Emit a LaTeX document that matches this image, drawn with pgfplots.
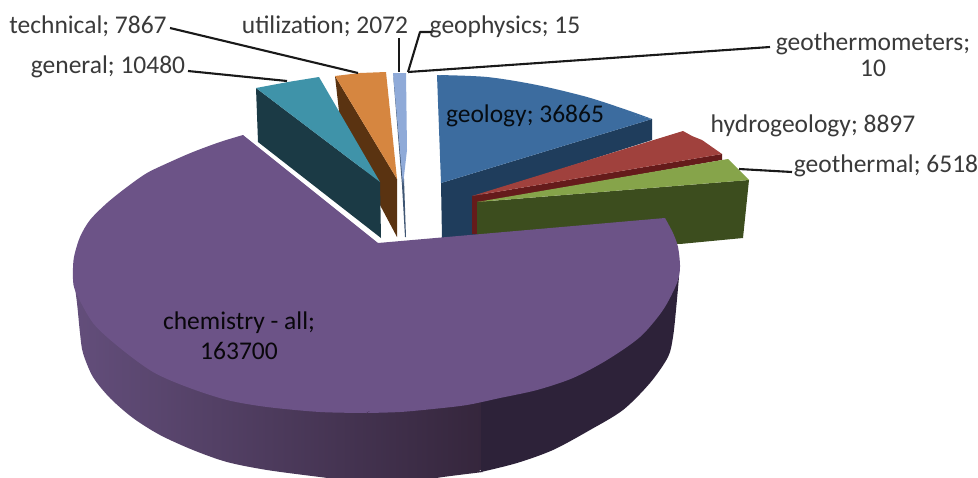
\documentclass[border=0pt]{standalone}
\usepackage{fontspec}
\setmainfont{Carlito}
\usepackage{pgfplots}
\pgfplotsset{compat=1.18}
\definecolor{purT}{HTML}{6C5387}
\definecolor{purL}{HTML}{634E7B}
\definecolor{purR}{HTML}{35263C}
\definecolor{purD}{HTML}{2D2239}
\definecolor{geoT}{HTML}{3C6C9F}
\definecolor{geoS}{HTML}{1F3D5C}
\definecolor{redT}{HTML}{A0413D}
\definecolor{redS}{HTML}{651B1B}
\definecolor{grnT}{HTML}{86A44A}
\definecolor{grnS}{HTML}{3C4D1E}
\definecolor{teaT}{HTML}{3F93A9}
\definecolor{teaS}{HTML}{1B3A45}
\definecolor{oraT}{HTML}{D68640}
\definecolor{oraS}{HTML}{5A3311}
\definecolor{bluT}{HTML}{8FAAD8}
\definecolor{bluS}{HTML}{3F5673}
\definecolor{txt}{HTML}{3A3A3A}
\begin{document}
\begin{tikzpicture}
\begin{axis}[width=978pt,height=477pt,scale only axis,xmin=0,xmax=978,ymin=0,ymax=477,y dir=reverse,hide axis,
  every axis plot/.append style={draw=none,mark=none}]
% canvas
\addplot[fill=white] coordinates {(0,0)(978,0)(978,477)(0,477)};
% geology
\addplot[fill=geoS] coordinates {(441,183)(652,119)(652,140)(480,195)(480,240)(442,238)};
\addplot[fill=geoT,smooth] coordinates {(437,75)(487,77)(537,85)(587,97)(627,110)(652,119)};
\addplot[fill=geoT] coordinates {(437,75)(500,85)(652,119)(441,183)};
% hydrogeology
\addplot[fill=redS] coordinates {(472,196)(722,154)(722,160)(477,203)(477,234)(472,234)};
\addplot[fill=redT] coordinates {(472,196)(683,131)(692,136)(702,140)(712,147)(722,154)};
% geothermal
\addplot[fill=grnS] coordinates {(477,202)(749,180)(743,238)(680,244)(477,236)};
\addplot[fill=grnT] coordinates {(477,202)(728,159)(735,166)(742,173)(749,180)};
% technical
\addplot[fill=oraS] coordinates {(335,76)(397,179)(397,237)(380,205)(340,120)};
\addplot[fill=oraT] coordinates {(335,76)(360,73)(386,72)(397,179)};
% general
\addplot[fill=teaS] coordinates {(256,88)(380,182)(381,238)(258,142)};
\addplot[fill=teaT] coordinates {(256,88)(272,85)(288,82)(319,77)(380,182)};
% utilization and the two thin slices
\addplot[fill=bluS] coordinates {(393,73)(403,150)(406,237)(405,237)(402,185)};
\addplot[fill=bluT] coordinates {(393,73)(406,73)(407,150)(403,185)};
% chemistry side, shaded part
\addplot[smooth,left color=purL,right color=purR] coordinates {(73,273)(77,303)(80,333)(83,353)(93,377)(110,398)(133,418)(160,435)(193,450)(227,462)(267,470)(320,477)(370,483)(410,482)(443,477)(483,472)};
\addplot[left color=purL,right color=purR] coordinates {(73,273)(120,380)(300,470)(483,470)(483,273)};
% chemistry side, dark part
\addplot[fill=purD,smooth] coordinates {(481,472)(517,463)(553,450)(590,430)(623,410)(650,383)(668,357)(673,337)(676,310)(679,277)};
\addplot[fill=purD] coordinates {(481,472)(600,420)(679,277)(481,273)};
% chemistry top
\addplot[fill=purT,smooth] coordinates {(243,135)(220,142)(193,152)(170,162)(147,173)(127,187)(107,203)(90,220)(80,237)(74,257)(73,273)(75,290)(93,323)(120,348)(153,372)(187,387)(227,400)(267,407)(320,412)(367,413)};
\addplot[fill=purT,smooth] coordinates {(367,413)(400,412)(433,409)(467,405)(500,398)(537,390)(573,378)(607,360)(640,337)(663,310)(677,283)(680,267)(678,247)(673,233)(665,218)};
\addplot[fill=purT] coordinates {(378,243)(243,135)(150,220)(120,300)(367,412)(600,340)(665,218)};
% leaders
\addplot[draw=black!90,line width=2.1pt,line join=round] coordinates {(188,71)(287,81)};
\addplot[draw=black!90,line width=2.1pt,line join=round] coordinates {(170,28)(358,73)};
\addplot[draw=black!90,line width=2.1pt,line join=round] coordinates {(399,38)(399,72)};
\addplot[draw=black!90,line width=2.1pt,line join=round] coordinates {(432,32)(420,32)(408,72)};
\addplot[draw=black!90,line width=2.1pt,line join=round] coordinates {(408,72)(770,47)};
\addplot[draw=black!90,line width=2.1pt,line join=round] coordinates {(739,169)(792,172)};
% labels
\begin{scope}[every node/.style={anchor=base,font=\fontsize{25.5}{30}\selectfont,text=txt,inner sep=0pt}]
\node at (axis cs:88,33) {technical; 7867};
\node at (axis cs:325,33) {utilization; 2072};
\node at (axis cs:505,33) {geophysics; 15};
\node at (axis cs:873,50) {geothermometers;};
\node at (axis cs:873,76) {10};
\node at (axis cs:108,73) {general; 10480};
\node[text=black!80!geoS] at (axis cs:525,122) {geology; 36865};
\node at (axis cs:813,132) {hydrogeology; 8897};
\node at (axis cs:886,172) {geothermal; 6518};
\node[text=black!80!purD] at (axis cs:239,329) {chemistry - all;};
\node[text=black!80!purD] at (axis cs:239,359) {163700};
\end{scope}
\end{axis}
\end{tikzpicture}
\end{document}
